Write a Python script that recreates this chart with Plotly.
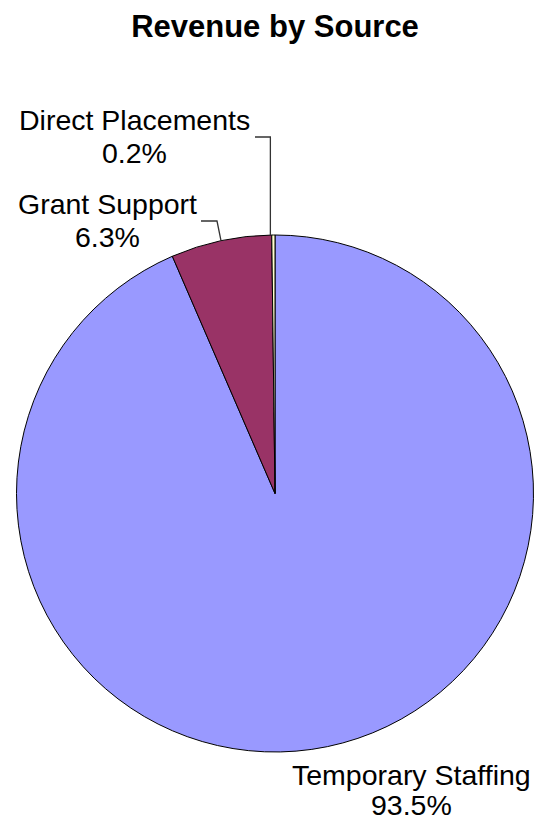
import math
import plotly.graph_objects as go

# ---- data ----
categories = ["Temporary Staffing", "Grant Support", "Direct Placements"]
shares = [93.5, 6.3, 0.2]
pct_labels = ["93.5%", "6.3%", "0.2%"]
colors = ["#9999FF", "#993366", "#FFFFCC"]

W, H = 536, 825
# pie geometry (pixels)
left, right, top, bottom = 16, 534, 235, 752
cx, cy = (left + right) / 2, (top + bottom) / 2
R = min(right - left, bottom - top) / 2

FONT = "Arial, Liberation Sans, sans-serif"

fig = go.Figure(go.Pie(
    labels=categories,
    values=shares,
    sort=False,
    direction="clockwise",
    rotation=0,
    textinfo="none",
    hoverinfo="label+percent",
    marker=dict(colors=colors, line=dict(color="#000000", width=1)),
    domain=dict(x=[left / W, right / W], y=[1 - bottom / H, 1 - top / H]),
    showlegend=False,
))

def px(x):
    return x / W

def py(y):
    return 1 - y / H

def edge_point(idx):
    total = sum(shares)
    start = sum(shares[:idx]) / total
    mid = (start + shares[idx] / total / 2) * 2 * math.pi
    return cx + R * math.sin(mid), cy - R * math.cos(mid)

# label placements (layout) : text centre x, first-line y, line gap
label_pos = {
    0: (411, 775, 30),
    1: (107, 204, 33),
    2: (134, 120, 33),
}
annotations = []
for i, name in enumerate(categories):
    x, y, gap = label_pos[i]
    annotations.append(dict(
        x=px(x), y=py(y), xref="paper", yref="paper", showarrow=False,
        text=name, font=dict(family=FONT, size=28.5, color="#000000"),
        xanchor="center", yanchor="middle", borderpad=0,
    ))
    annotations.append(dict(
        x=px(x), y=py(y + gap), xref="paper", yref="paper", showarrow=False,
        text=pct_labels[i], font=dict(family=FONT, size=28.5, color="#000000"),
        xanchor="center", yanchor="middle", borderpad=0,
    ))

shapes = []
# Grant Support leader
ex, ey = edge_point(1)
pts = [(201, 221), (217, 221), (ex, ey)]
path = "M " + " L ".join(f"{px(a)},{py(b)}" for a, b in pts)
shapes.append(dict(type="path", path=path, xref="paper", yref="paper",
                   line=dict(color="#333333", width=1.3)))
# Direct Placements leader
ex, ey = edge_point(2)
pts = [(255, 137), (ex - 3, 137), (ex - 3, ey)]
path = "M " + " L ".join(f"{px(a)},{py(b)}" for a, b in pts)
shapes.append(dict(type="path", path=path, xref="paper", yref="paper",
                   line=dict(color="#333333", width=1.3)))

fig.update_layout(
    width=W, height=H,
    margin=dict(l=0, r=0, t=0, b=0),
    paper_bgcolor="#FFFFFF",
    plot_bgcolor="#FFFFFF",
    title=dict(text="<b>Revenue by Source</b>", x=275 / W, xanchor="center",
               y=py(26), yanchor="middle",
               font=dict(family=FONT, size=31, color="#000000")),
    annotations=annotations,
    shapes=shapes,
)

fig.write_html("out.html")
